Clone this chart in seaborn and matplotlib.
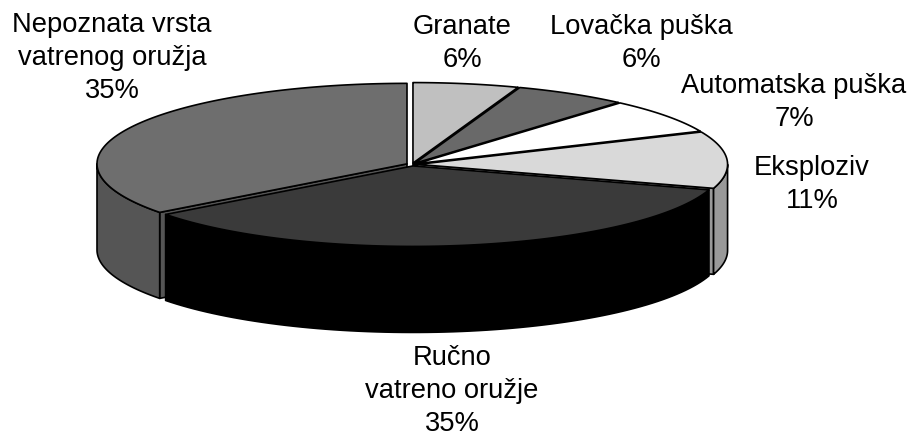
import numpy as np
import seaborn as sns
import matplotlib.pyplot as plt

names = ['Granate', 'Lovačka puška', 'Automatska puška', 'Eksploziv',
         'Ručno\nvatreno oružje', 'Nepoznata vrsta\nvatrenog oružja']
values = [5.5, 5.9, 7.0, 11.4, 34.9, 35.3]
shown = [6, 6, 7, 11, 35, 35]

top_colors = ['#c0c0c0', '#696969', '#ffffff', '#d9d9d9', '#3a3a3a', '#6e6e6e']
side_colors = ['#000000', '#000000', '#000000', '#999999', '#000000', '#555555']
label_x = [462, 641, 794, 812, 452, 112]
label_y = [67, 67, 126, 208, 431, 98]

cx, cy = 412, 164.5
rx, ry = 310, 80.5
depth = 86
pull = 0.018

sns.set_theme(style='white')
plt.rcParams['font.family'] = ['Liberation Sans', 'DejaVu Sans']

fig = plt.figure(figsize=(9.09, 4.34), dpi=100)
ax = fig.add_axes([0, 0, 1, 1])
ax.set_xlim(0, 909)
ax.set_ylim(434, 0)
ax.set_axis_off()

top_pal = sns.color_palette(top_colors)
side_pal = sns.color_palette(side_colors)


def ring(t, x0, y0):
    a = np.radians(t)
    return x0 + rx * np.sin(a), y0 - ry * np.cos(a)


def wall(x, y, color):
    xs = np.concatenate([x, x[::-1]])
    ys = np.concatenate([y, y[::-1] + depth])
    ax.fill(xs, ys, facecolor=color, edgecolor='black', lw=1.2, joinstyle='round')


ends = np.cumsum(values) / np.sum(values) * 360
starts = ends - np.array(values) / np.sum(values) * 360

# painter order, back slices first, the big front slice last
for i in [5, 0, 1, 2, 3, 4]:
    t0, t1 = starts[i], ends[i]
    mid = np.radians((t0 + t1) / 2)
    x0 = cx + pull * rx * np.sin(mid)
    y0 = cy - pull * ry * np.cos(mid)

    # cut faces turned to the viewer
    for t, vis in [(t0, np.sin(np.radians(t0)) < -0.01), (t1, np.sin(np.radians(t1)) > 0.01)]:
        if vis:
            ex, ey = ring(t, x0, y0)
            wall(np.array([x0, ex]), np.array([y0, ey]), side_pal[i])

    # outer rim, only the front half shows
    lo, hi = max(t0, 90), min(t1, 270)
    if hi > lo:
        rim = np.linspace(lo, hi, 80)
        wall(*ring(rim, x0, y0), side_pal[i])

    arc = np.linspace(t0, t1, 120)
    xa, ya = ring(arc, x0, y0)
    ax.fill(np.r_[x0, xa], np.r_[y0, ya], facecolor=top_pal[i], edgecolor='black',
            lw=1.2, joinstyle='round')

for n, p, x, y in zip(names, shown, label_x, label_y):
    ax.text(x, y, f'{n}\n{p}%', ha='center', va='baseline', fontsize=19.7,
            color='black', linespacing=1.36)

fig.savefig('out.png', dpi=100)
